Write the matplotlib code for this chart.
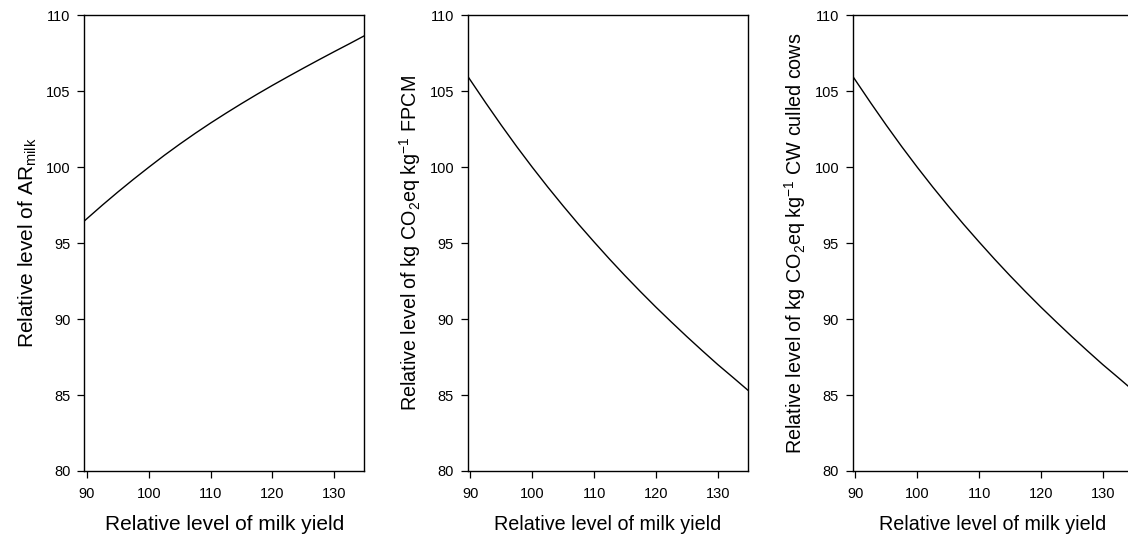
import numpy as np
import matplotlib
matplotlib.use("Agg")
import matplotlib.pyplot as plt

plt.rcParams['font.family'] = ['Liberation Sans', 'DejaVu Sans']
plt.rcParams['mathtext.fontset'] = 'custom'
plt.rcParams['mathtext.rm'] = 'Liberation Sans'
plt.rcParams['mathtext.it'] = 'Liberation Sans'

# relative level of milk yield (x)
milk_yield = [89.56, 92.5, 95, 97.5, 100, 102.5, 105, 107.5, 110, 112.5,
              115, 117.5, 120, 122.5, 125, 127.5, 130, 132.5, 134.85]
# values
ar_milk = [96.46, 97.51, 98.37, 99.20, 100.00, 100.78, 101.52, 102.23, 102.91, 103.56,
           104.19, 104.80, 105.39, 105.96, 106.52, 107.07, 107.61, 108.14, 108.65]
co2_fpcm = [105.99, 104.22, 102.76, 101.35, 100.00, 98.70, 97.45, 96.24, 95.08, 93.95,
            92.86, 91.81, 90.79, 89.81, 88.85, 87.92, 87.01, 86.15, 85.33]
co2_cw = [105.99, 104.22, 102.76, 101.35, 100.00, 98.70, 97.45, 96.24, 95.08, 93.95,
          92.86, 91.81, 90.79, 89.81, 88.85, 87.92, 87.01, 86.15, 85.33]

xticks = [90, 100, 110, 120, 130]
yticks = [80, 85, 90, 95, 100, 105, 110]

ylabels = [r'Relative level of AR$_{\mathrm{milk}}$',
           r'Relative level of kg CO$_2$eq kg$^{-1}$ FPCM',
           r'Relative level of kg CO$_2$eq kg$^{-1}$ CW culled cows']
series = [ar_milk, co2_fpcm, co2_cw]
lefts = [84.3, 467.7, 852.7]
label_sizes = [15, 14.2, 14.2]

W, H = 1128, 539
fig = plt.figure(figsize=(W / 100, H / 100), dpi=100)

for i in range(3):
    ax = fig.add_axes([lefts[i] / W, 1 - 471 / H, 280 / W, 455.7 / H])
    ax.plot(milk_yield, series[i], color='black', linewidth=1.0)
    ax.set_xlim(89.56, 134.85)
    ax.set_ylim(80, 110)
    ax.set_xticks(xticks)
    ax.set_yticks(yticks)
    ax.tick_params(direction='out', length=4.8, width=0.9, labelsize=10.5,
                   top=False, right=False)
    ax.tick_params(axis='y', pad=5)
    ax.tick_params(axis='x', pad=6.5)
    for s in ax.spines.values():
        s.set_linewidth(1.0)
    ax.set_xlabel('Relative level of milk yield', fontsize=label_sizes[i], labelpad=10)
    ax.set_ylabel(ylabels[i], fontsize=label_sizes[i], labelpad=5)

fig.savefig('out.png', dpi=100)
